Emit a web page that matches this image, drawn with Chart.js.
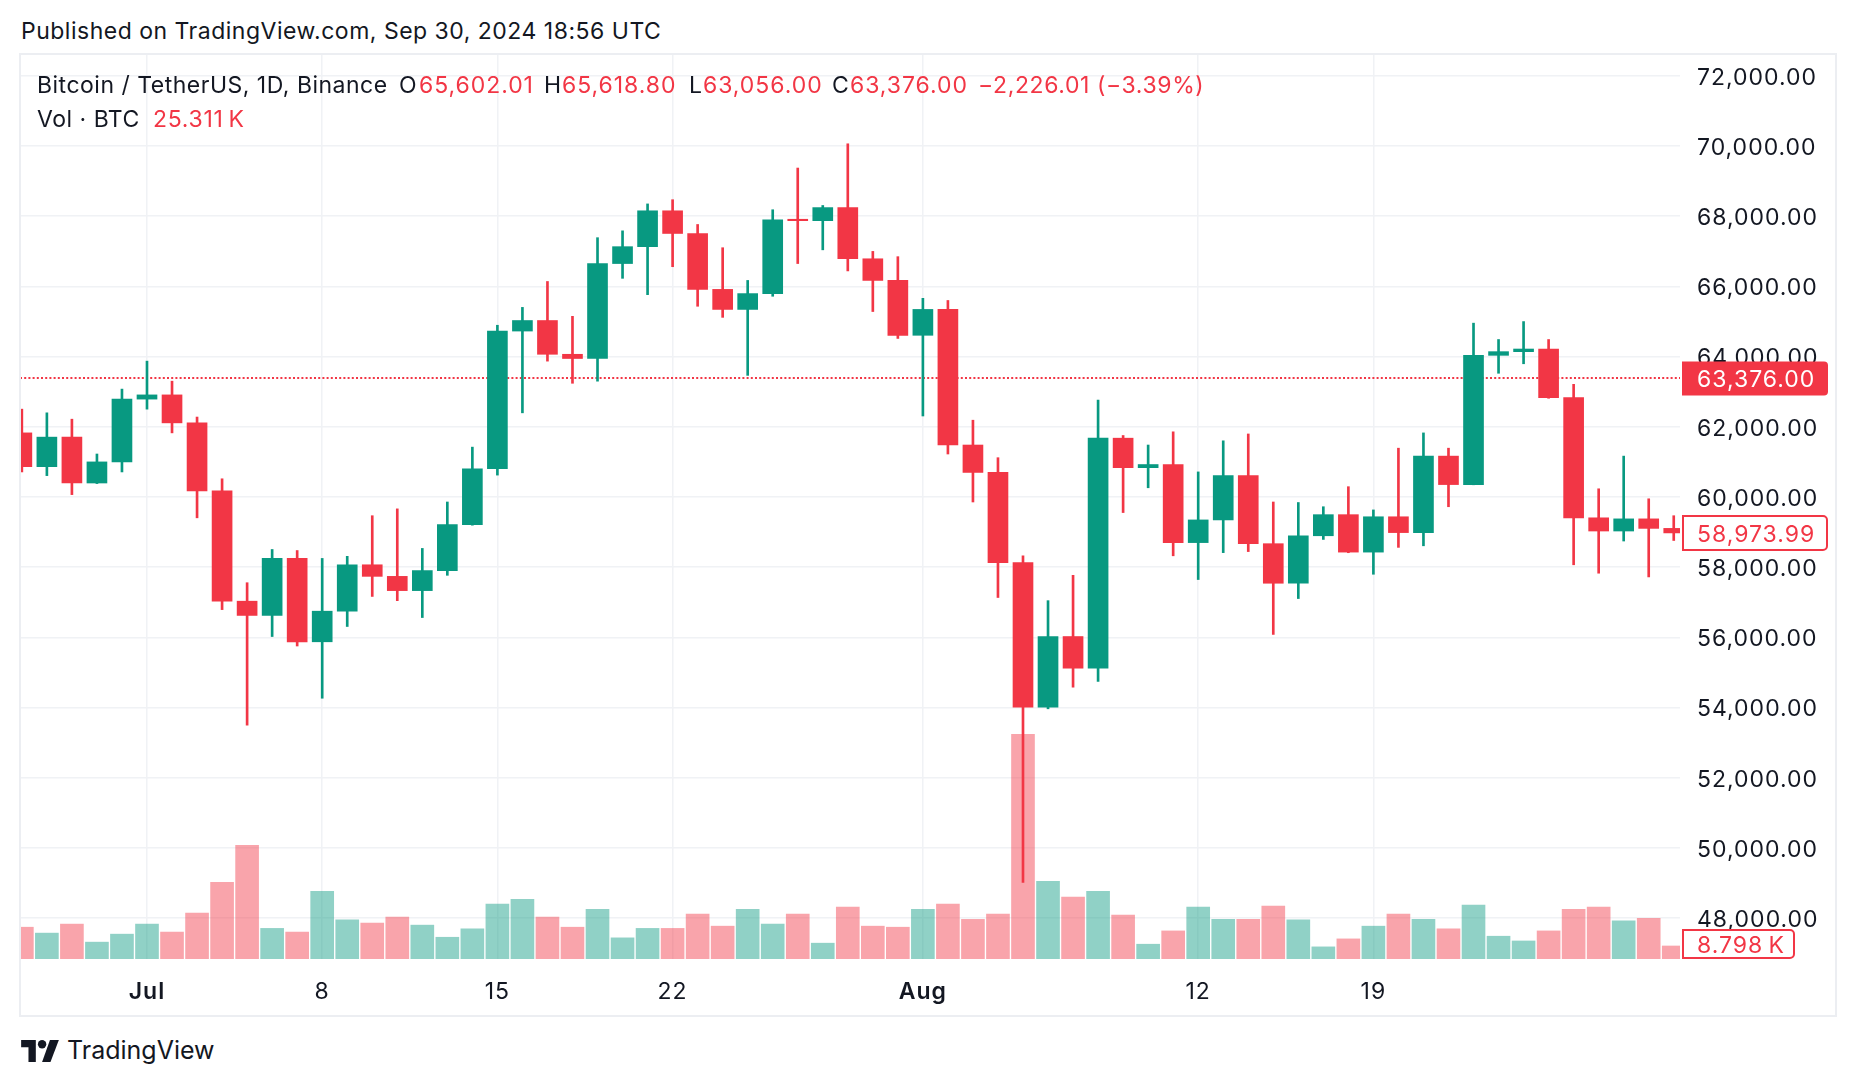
<!DOCTYPE html>
<html>
<head>
<meta charset="utf-8">
<script src="https://cdn.jsdelivr.net/npm/chart.js@4.4.1/dist/chart.umd.min.js"></script>
<style>
  html, body { margin: 0; padding: 0; background: #ffffff; width: 1856px; height: 1086px; overflow: hidden; }
  body { font-family: Inter, "Noto Sans", "DejaVu Sans", sans-serif; color: #131722; position: relative; }
  .t { position: absolute; white-space: nowrap; font-size: 23px; line-height: 23px; letter-spacing: 0.5px; }
  .n { letter-spacing: 0.95px; }
  .red { color: #F23645; }
  #pane { position: absolute; left: 19px; top: 53px; width: 1818px; height: 964px; box-sizing: border-box; border: 2px solid #eceef2; pointer-events: none; }
  #cv { position: absolute; left: 20px; top: 54px; }
  #logo { position: absolute; left: 21px; top: 1040px; }
</style>
</head>
<body>
<div class="t" id="pub" style="left:21px; top:20px;">Published on TradingView.com, Sep 30, 2024 18:56 UTC</div>
<canvas id="cv" width="1816" height="962"></canvas>
<div id="pane"></div>

<div class="t" style="left:37px; top:74px;">Bitcoin / TetherUS, 1D, Binance</div>
<div class="t" style="left:399px; top:74px;">O</div><div class="t n red" style="left:419px; top:74px;">65,602.01</div>
<div class="t" style="left:544px; top:74px;">H</div><div class="t n red" style="left:562px; top:74px;">65,618.80</div>
<div class="t" style="left:689px; top:74px;">L</div><div class="t n red" style="left:703px; top:74px;">63,056.00</div>
<div class="t" style="left:832px; top:74px;">C</div><div class="t n red" style="left:850px; top:74px;">63,376.00</div>
<div class="t red" style="left:978px; top:74px; letter-spacing:0.6px;">−2,226.01 (−3.39%)</div>
<div class="t" style="left:37px; top:108px;">Vol · BTC</div>
<div class="t red" style="left:153px; top:108px; letter-spacing:0.7px;">25.311&#8239;K</div>

<svg id="logo" width="38" height="22" viewBox="0 0 36 21">
  <path d="M14 21H7V7H0V0h14v21z" fill="#131722"/>
  <circle cx="20" cy="4" r="4" fill="#131722"/>
  <path d="M28 21h-8L27.5 0H36L28 21z" fill="#131722"/>
</svg>
<div class="t" style="left:67px; top:1038px; font-size:25px; line-height:25px; letter-spacing:0;">TradingView</div>

<script>
// ---- data (BTC/USDT daily, Binance) ----
const dates = ['Jun 26','Jun 27','Jun 28','Jun 29','Jun 30','Jul 1','Jul 2','Jul 3','Jul 4','Jul 5','Jul 6','Jul 7',
  'Jul 8','Jul 9','Jul 10','Jul 11','Jul 12','Jul 13','Jul 14','Jul 15','Jul 16','Jul 17','Jul 18','Jul 19','Jul 20',
  'Jul 21','Jul 22','Jul 23','Jul 24','Jul 25','Jul 26','Jul 27','Jul 28','Jul 29','Jul 30','Jul 31','Aug 1','Aug 2',
  'Aug 3','Aug 4','Aug 5','Aug 6','Aug 7','Aug 8','Aug 9','Aug 10','Aug 11','Aug 12','Aug 13','Aug 14','Aug 15',
  'Aug 16','Aug 17','Aug 18','Aug 19','Aug 20','Aug 21','Aug 22','Aug 23','Aug 24','Aug 25','Aug 26','Aug 27',
  'Aug 28','Aug 29','Aug 30','Aug 31'];
const openP = [61824,60862,61703,60396,60997,62786,62906,62109,60170,57029,56623,58247,
  55872,56744,58066,57736,57330,57901,59209,60802,64725,65025,64063,63943,66648,
  67129,68151,67505,65912,65341,65792,67910,67870,68242,66784,66167,64604,65341,
  61478,60697,58127,54008,56022,55120,61673,60832,60922,58698,59344,60606,58667,
  57540,58893,59494,58427,59434,58983,61162,60351,64033,64138,64213,62830,
  59404,59028,59374,59103];
const highP = [62500,62395,62214,61222,63071,63868,63297,62275,60516,57555,58502,58472,
  58247,58307,59464,59659,58532,59855,61418,64890,65399,66137,65145,67385,67580,
  68347,68467,67761,67099,66167,68181,69369,68302,70060,66994,66844,65657,65596,
  62185,61117,58322,57044,57766,62756,61749,61478,61854,60712,61598,61793,59855,
  59840,59720,60291,59629,61388,61823,61388,64950,64484,64995,64484,63207,
  60231,61162,59946,59464];
const lowP = [60711,60606,60065,60380,60711,62500,61824,59404,56789,53497,56022,55752,
  54264,56308,57164,57044,56563,57766,59194,60621,62395,63868,63237,63297,66227,
  65762,66558,65431,65115,63462,65716,66648,67039,66438,65281,64514,62305,61222,
  59855,57134,49018,53963,54579,54745,59554,60260,58322,57646,58412,58442,56082,
  57104,58788,58410,57796,58562,58607,59720,60345,63522,63793,62810,58066,
  57826,58743,57720,58758];
const closeP = [60862,61703,60396,60997,62786,62906,62109,60170,57029,56623,58247,55872,
  56744,58066,57736,57330,57901,59209,60802,64725,65025,64063,63943,66648,67129,
  68151,67505,65912,65341,65792,67896,67870,68242,66784,66167,64604,65341,61478,
  60697,58127,54008,56022,55120,61673,60832,60922,58698,59344,60606,58667,57540,
  58893,59494,58427,59434,58983,61162,60351,64033,64138,64213,62830,59404,
  59028,59374,59103,58973.99];
const volumeK = [21.5,17.5,23.6,11.4,16.8,23.6,18.2,31.1,51.9,76.9,20.7,18.2,
  45.8,26.5,24.3,28.3,22.9,14.7,20.4,37.2,40.4,28.3,21.5,33.6,14.3,
  20.7,20.7,30.4,22.2,33.6,23.6,30.4,10.7,35.1,22.2,21.5,33.6,37.2,
  26.8,30.4,152.0,52.6,41.9,45.8,29.7,10.0,19.0,35.1,26.8,26.8,35.8,
  26.5,8.2,13.6,22.2,30.4,26.8,20.4,36.5,15.4,12.2,19.0,33.6,
  35.1,25.8,27.5,8.798];
const priceTicks = [48000,50000,52000,54000,56000,58000,60000,62000,64000,66000,68000,70000,72000];
const timeTickIdx = [5,12,19,26,36,47,54];
const timeTickLabels = ['Jul','8','15','22','Aug','12','19'];
const timeTickBold = [true,false,false,false,true,false,false];
const currentPrice = 63376.00;

// ---- styles ----
const UP = '#089981', DOWN = '#F23645';
const UP_V = 'rgba(8,153,129,0.45)', DOWN_V = 'rgba(242,54,69,0.45)';
const FONT = 'Inter, "Noto Sans", sans-serif';
const GRID = '#f0f2f5';
const FS = 23;

const isUp = dates.map((d, i) => closeP[i] >= openP[i]);
const bodyData = dates.map((d, i) => ({ x: i, y: [openP[i], closeP[i]] }));
const wickData = dates.map((d, i) => ({ x: i, y: [lowP[i], highP[i]] }));
const volData = dates.map((d, i) => ({ x: i, y: volumeK[i] }));

function fmtPrice(v) {
  return v.toLocaleString('en-US', { minimumFractionDigits: 2, maximumFractionDigits: 2 });
}

const overlay = {
  id: 'overlay',
  beforeDraw(chart) {
    chart.ctx.letterSpacing = '1px';
  },
  beforeDatasetsDraw(chart) {
    const { ctx, chartArea: a } = chart;
    const y = chart.scales.y.getPixelForValue(currentPrice);
    ctx.save();
    ctx.strokeStyle = DOWN;
    ctx.lineWidth = 2;
    ctx.setLineDash([2, 2.2]);
    ctx.beginPath();
    ctx.moveTo(a.left, Math.round(y));
    ctx.lineTo(a.right, Math.round(y));
    ctx.stroke();
    ctx.restore();
  },
  afterDraw(chart) {
    const { ctx, chartArea: a } = chart;
    const ys = chart.scales.y;
    const yv = chart.scales.yv;
    const boxL = a.right + 2, boxW = 146, h = 34;
    ctx.save();
    ctx.letterSpacing = '1px';
    ctx.font = FS + 'px ' + FONT;
    ctx.textBaseline = 'middle';
    ctx.textAlign = 'left';
    // current price label (filled)
    let y = ys.getPixelForValue(currentPrice);
    ctx.fillStyle = DOWN;
    ctx.beginPath();
    ctx.roundRect(boxL, y - h / 2, boxW, h, [0, 4, 4, 0]);
    ctx.fill();
    ctx.fillStyle = '#ffffff';
    ctx.fillText(fmtPrice(currentPrice), a.right + 17, y + 2);
    // last close label (outlined)
    const last = closeP.length - 1;
    y = ys.getPixelForValue(closeP[last]);
    ctx.fillStyle = '#ffffff';
    ctx.strokeStyle = DOWN;
    ctx.lineWidth = 2;
    ctx.beginPath();
    ctx.roundRect(boxL + 1, y - h / 2, boxW - 2, h, [0, 4, 4, 0]);
    ctx.fill();
    ctx.stroke();
    ctx.fillStyle = DOWN;
    ctx.fillText(fmtPrice(closeP[last]), a.right + 17, y + 2);
    // last volume label (outlined)
    let vy = yv.getPixelForValue(volumeK[last]);
    const vh = 28, vw = 111;
    let top = Math.min(vy - vh / 2, a.bottom - vh - 1);
    ctx.fillStyle = '#ffffff';
    ctx.beginPath();
    ctx.roundRect(boxL + 1, top, vw, vh, [0, 4, 4, 0]);
    ctx.fill();
    ctx.stroke();
    ctx.fillStyle = DOWN;
    ctx.fillText(volumeK[last].toFixed(3) + '\u202FK', a.right + 17, top + vh / 2 + 2);
    ctx.restore();
  }
};

new Chart(document.getElementById('cv'), {
  type: 'bar',
  data: {
    datasets: [
      { label: 'body', data: bodyData, yAxisID: 'y', order: 0, grouped: false,
        barThickness: 20, borderWidth: 0, borderSkipped: false,
        backgroundColor: isUp.map(u => u ? UP : DOWN) },
      { label: 'wick', data: wickData, yAxisID: 'y', order: 1, grouped: false,
        barThickness: 2, borderWidth: 0, borderSkipped: false,
        backgroundColor: isUp.map(u => u ? UP : DOWN) },
      { label: 'volume', data: volData, yAxisID: 'yv', order: 2, grouped: false,
        barThickness: 23, borderWidth: 0,
        backgroundColor: isUp.map(u => u ? UP_V : DOWN_V) }
    ]
  },
  options: {
    responsive: false,
    animation: false,
    devicePixelRatio: 1,
    layout: { padding: 0, autoPadding: false },
    plugins: { legend: { display: false }, tooltip: { enabled: false } },
    scales: {
      x: {
        type: 'linear',
        offset: false,
        min: -0.074,
        max: 66.25,
        afterBuildTicks: s => { s.ticks = timeTickIdx.map(v => ({ value: v })); },
        afterFit: s => { s.height = 57; s.paddingLeft = 0; s.paddingRight = 0; },
        grid: { color: GRID, lineWidth: 1.5, drawTicks: false, offset: false },
        border: { display: false },
        ticks: {
          autoSkip: false, maxRotation: 0, padding: 19, color: '#131722',
          callback: (v, i) => timeTickLabels[i],
          font: c => ({ family: FONT, size: FS, weight: timeTickBold[c.index] ? '600' : '400' })
        }
      },
      y: {
        position: 'right',
        min: 46835,
        max: 72618,
        afterBuildTicks: s => { s.ticks = priceTicks.map(v => ({ value: v })); },
        afterFit: s => { s.width = 156; s.paddingTop = 0; s.paddingBottom = 0; },
        grid: { color: GRID, lineWidth: 1.5, drawTicks: false, offset: false },
        border: { display: false },
        ticks: { padding: 17, labelOffset: 2, color: '#131722', font: { family: FONT, size: FS },
          callback: v => fmtPrice(v) }
      },
      yv: {
        display: false,
        min: 0,
        max: 612
      }
    }
  },
  plugins: [overlay]
});
</script>
</body>
</html>
